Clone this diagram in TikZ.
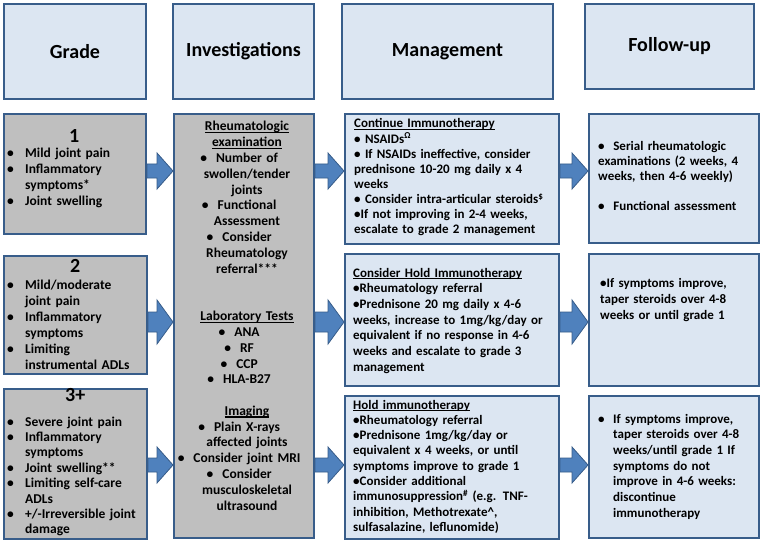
\documentclass[tikz,border=0pt]{standalone}
\usepackage{fontspec}
\setmainfont{Carlito}
\usetikzlibrary{calc}
\definecolor{headfill}{RGB}{220, 230, 242}
\definecolor{greyfill}{RGB}{191, 191, 191}
\definecolor{edgeblue}{RGB}{56, 93, 138}
\definecolor{arrowblue}{RGB}{79, 129, 189}

% bullet with hanging indent
\newcommand{\bul}[1][18pt]{\hangindent=#1\hangafter=1\makebox[#1][l]{\textbullet}}
% bullet hanging left of a centred line
\newcommand{\ibul}{\leavevmode\llap{\textbullet\hspace{9pt}}}
% underline just below the baseline
\newcommand{\uln}[1]{\leavevmode\setbox0=\hbox{#1}\rlap{\rule[-2.2pt]{\wd0}{1.1pt}}\box0}
% block arrow: start, end, shaft half height, head half height
\newcommand{\bigarrow}[4]{%
  \draw[blockarrow] ($(#1)+(0,-#3)$) -- ($(#2)+(-16,-#3)$) -- ($(#2)+(-16,-#4)$) -- (#2)
    -- ($(#2)+(-16,#4)$) -- ($(#2)+(-16,#3)$) -- ($(#1)+(0,#3)$) -- cycle;}

\begin{document}
\begin{tikzpicture}[
    x=1pt, y=-1pt,
    box/.style={draw=edgeblue, line width=2pt, inner sep=0pt, anchor=north west},
    headbox/.style={box, fill=headfill, font=\fontsize{20}{24}\selectfont\bfseries},
    bluebox/.style={box, fill=headfill},
    greybox/.style={box, fill=greyfill},
    body/.style={font=\fontsize{13}{#1}\selectfont\bfseries, inner sep=0pt, text=black},
    bigbody/.style={font=\fontsize{13.5}{#1}\selectfont\bfseries, inner sep=0pt, text=black},
    blockarrow/.style={fill=arrowblue, draw=edgeblue, line width=0.8pt},
  ]

  \fill[white] (0,0) rectangle (762,540);
  \useasboundingbox (0,0) rectangle (762,540);

  % --- Headers ---
  \node[headbox, minimum width=142pt, minimum height=95pt] (hgrade) at (3,3) {Grade};
  \node[headbox, minimum width=141pt, minimum height=95pt] (hinv) at (172,3) {Investigations};
  \node[headbox, minimum width=211pt, minimum height=95pt] (hmgmt) at (341,3) {Management};
  \node[headbox, minimum width=169pt, minimum height=85pt] (hfollow) at (584,3) {Follow-up};

  % --- Boxes ---
  \node[greybox, minimum width=142pt, minimum height=120pt] (g1) at (3,113) {};
  \node[greybox, minimum width=143pt, minimum height=118pt] (g2) at (3,255) {};
  \node[greybox, minimum width=143pt, minimum height=150pt] (g3) at (3,388) {};
  \node[greybox, minimum width=140pt, minimum height=424pt] (inv) at (173,113) {};
  \node[bluebox, minimum width=214pt, minimum height=130pt] (m1) at (344,113) {};
  \node[bluebox, minimum width=214pt, minimum height=132pt] (m2) at (344,253) {};
  \node[bluebox, minimum width=214pt, minimum height=143pt] (m3) at (344,395) {};
  \node[bluebox, minimum width=170pt, minimum height=129pt] (f1) at (588,113) {};
  \node[bluebox, minimum width=170pt, minimum height=132pt] (f2) at (588,253) {};
  \node[bluebox, minimum width=170pt, minimum height=142pt] (f3) at (588,395) {};

  % --- Arrows ---
  \coordinate (r1) at (0,171);
  \coordinate (r2) at (0,322);
  \coordinate (r3) at (0,465);
  \bigarrow{g1.east |- r1}{inv.west |- r1}{7}{18}
  \bigarrow{g2.east |- r2}{inv.west |- r2}{10}{22}
  \bigarrow{g3.east |- r3}{inv.west |- r3}{7}{18}
  \bigarrow{inv.east |- r1}{m1.west |- r1}{7}{18}
  \bigarrow{inv.east |- r2}{m2.west |- r2}{10}{22}
  \bigarrow{inv.east |- r3}{m3.west |- r3}{7}{18}
  \bigarrow{m1.east |- r1}{f1.west |- r1}{7}{18}
  \bigarrow{m2.east |- r2}{f2.west |- r2}{10}{22}
  \bigarrow{m3.east |- r3}{f3.west |- r3}{7}{18}

  % --- Grade ---
  \node[bigbody=15.7, text width=134pt, anchor=base west] (g1txt) at (7,143) {%
    \centering{\fontsize{20}{20}\selectfont 1}\par
    \vspace{-0.7pt}\raggedright
    \bul Mild joint pain\par
    \bul Inflammatory\newline symptoms*\par
    \bul Joint swelling\par};
  \node[bigbody=16, text width=136pt, anchor=base west] (g2txt) at (7,272) {%
    \centering{\fontsize{20}{20}\selectfont 2}\par
    \vspace{1pt}\raggedright
    \bul Mild/moderate\newline joint pain\par
    \bul Inflammatory\newline symptoms\par
    \bul Limiting\newline instrumental ADLs\par};
  \node[bigbody=15.4, text width=136pt, anchor=base west] (g3txt) at (7,401) {%
    \centering{\fontsize{20}{20}\selectfont 3+}\par
    \vspace{9.6pt}\raggedright
    \bul Severe joint pain\par
    \bul Inflammatory\newline symptoms\par
    \bul Joint swelling**\par
    \bul Limiting self-care\newline ADLs\par
    \bul +/-Irreversible joint\newline damage\par};

  % --- Investigations ---
  \node[bigbody=15.8, text width=136pt, anchor=base] (invtxt) at (247,131) {%
    \centering
    \uln{Rheumatologic}\\ \uln{examination}\\
    \ibul Number of\\ swollen/tender\\ joints\\
    \ibul Functional\\ Assessment\\
    \ibul Consider\\ Rheumatology\\ referral***\\[31.6pt]
    \uln{Laboratory Tests}\\
    \ibul ANA\\ \ibul RF\\ \ibul CCP\\ \ibul HLA-B27\\[15.8pt]
    \uln{Imaging}\\
    \ibul Plain X-rays\\ affected joints\\
    \ibul Consider joint MRI\\
    \ibul Consider\\ musculoskeletal\\ ultrasound\par};

  % --- Management ---
  \node[body=15.1, text width=204pt, anchor=base west] (m1txt) at (354,128) {%
    \raggedright
    \uln{Continue Immunotherapy}\\
    \textbullet\ NSAIDs\textsuperscript{Ω}\\
    \textbullet\ If NSAIDs ineffective, consider\\
    prednisone 10-20 mg daily x 4\\
    weeks\\
    \textbullet\ Consider intra-articular steroids\textsuperscript{\$}\\
    \textbullet If not improving in 2-4 weeks,\\
    escalate to grade 2 management\par};
  \node[body=15.7, text width=204pt, anchor=base west] (m2txt) at (353,277) {%
    \raggedright
    \uln{Consider Hold Immunotherapy}\\
    \textbullet Rheumatology referral\\
    \textbullet Prednisone 20 mg daily x 4-6\\
    weeks, increase to 1mg/kg/day or\\
    equivalent if no response in 4-6\\
    weeks and escalate to grade 3\\
    management\par};
  \node[body=15.3, text width=204pt, anchor=base west] (m3txt) at (353,409) {%
    \raggedright
    \uln{Hold immunotherapy}\\
    \textbullet Rheumatology referral\\
    \textbullet Prednisone 1mg/kg/day or\\
    equivalent x 4 weeks, or until\\
    symptoms improve to grade 1\\
    \textbullet Consider additional\\
    immunosuppression\textsuperscript{\#} (e.g. TNF-\\
    inhibition, Methotrexate\textasciicircum,\\
    sulfasalazine, leflunomide)\par};

  % --- Follow-up ---
  \node[body=15, text width=158pt, anchor=base west] (f1txt) at (598,150) {%
    \raggedright
    \textbullet\ \ Serial rheumatologic\\
    examinations (2 weeks, 4\\
    weeks, then 4-6 weekly)\\[15pt]
    \textbullet\ \ Functional assessment\par};
  \node[body=16, text width=156pt, anchor=base west] (f2txt) at (600,287) {%
    \raggedright
    \textbullet If symptoms improve,\\
    taper steroids over 4-8\\
    weeks or until grade 1\par};
  \node[body=15.7, text width=158pt, anchor=base west] (f3txt) at (598,423) {%
    \raggedright
    \bul[15pt]If symptoms improve,\newline taper steroids over 4-8\newline
    weeks/until grade 1 If\newline symptoms do not\newline
    improve in 4-6 weeks:\newline discontinue\newline immunotherapy\par};

\end{tikzpicture}
\end{document}
